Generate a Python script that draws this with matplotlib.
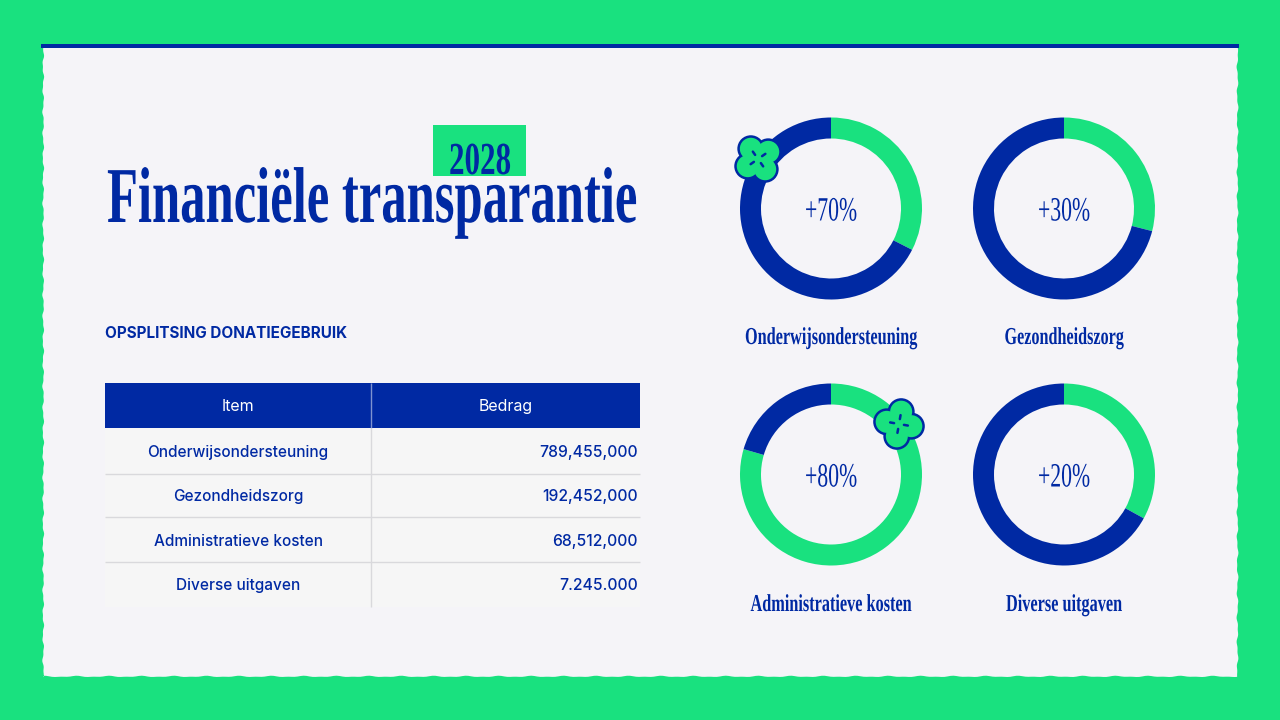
import numpy as np
import matplotlib
matplotlib.use("Agg")
import matplotlib.pyplot as plt
from matplotlib.patches import Rectangle, Circle, Polygon
from matplotlib.patheffects import AbstractPathEffect
from matplotlib.transforms import Affine2D

GREEN = "#19E17F"
BLUE = "#0029A3"
PANEL = "#F5F4F8"
ROW = "#F6F6F6"
GRID = "#D9D9DC"

title = "Financiële transparantie"
year = "2028"
subtitle = "OPSPLITSING DONATIEGEBRUIK"
table_header = ["Item", "Bedrag"]
table_items = ["Onderwijsondersteuning", "Gezondheidszorg", "Administratieve kosten", "Diverse uitgaven"]
table_amounts = ["789,455,000", "192,452,000", "68,512,000", "7.245.000"]
donut_labels = ["Onderwijsondersteuning", "Gezondheidszorg", "Administratieve kosten", "Diverse uitgaven"]
donut_texts = ["+70%", "+30%", "+80%", "+20%"]
donut_green = [32.5, 29, 79.5, 33]
donut_blue = [67.5, 71, 20.5, 67]

W, H = 1280, 720
fig = plt.figure(figsize=(12.8, 7.2), dpi=100, facecolor=GREEN)
ax = fig.add_axes([0, 0, 1, 1])
ax.set_xlim(0, W)
ax.set_ylim(H, 0)
ax.axis("off")


class Condense(AbstractPathEffect):
    """Narrow a text horizontally about a fixed pixel column."""
    def __init__(self, x0, sx):
        super().__init__()
        self.x0, self.sx = x0, sx

    def draw_path(self, renderer, gc, tpath, affine, rgbFace=None):
        squeeze = Affine2D().translate(-self.x0, 0).scale(self.sx, 1).translate(self.x0, 0)
        renderer.draw_path(gc, tpath, affine + squeeze, rgbFace)


def fit(txt, width):
    r = fig.canvas.get_renderer()
    w = txt.get_window_extent(r).width
    txt.set_fontsize(txt.get_fontsize() * width / w)


def condensed(x, y, s, width, size, ha="center", weight="normal"):
    txt = ax.text(x, y, s, family="Liberation Serif", weight=weight, color=BLUE,
                  fontsize=size, ha=ha, va="baseline", zorder=4)
    w = txt.get_window_extent(fig.canvas.get_renderer()).width
    txt.set_path_effects([Condense(x, width / w)])
    return txt


def wobble(n, a, f1, f2):
    t = np.linspace(0, 1, n)
    return a * (np.sin(t * f1) + 0.6 * np.sin(t * f2 + 1.0))


# panel with a slightly rough edge
n = 400
xs = np.linspace(43, 1238, n)
ys = np.linspace(48, 677, n)
top = np.c_[xs, np.full(n, 48.0)]
right = np.c_[1237.5 + wobble(n, 0.6, 151, 337), ys]
bottom = np.c_[xs[::-1], 676.5 + wobble(n, 0.5, 231, 463)]
left = np.c_[43.2 + wobble(n, 0.6, 173, 389), ys[::-1]]
ax.add_patch(Polygon(np.vstack([top, right, bottom, left]), closed=True, fc=PANEL, ec="none", zorder=1))
ax.add_patch(Rectangle((41, 44), 1198, 4, fc=BLUE, ec="none", zorder=2))

# year tag and title
ax.add_patch(Rectangle((433, 125), 93, 51, fc=GREEN, ec="none", zorder=2))
condensed(480, 174, year, 62, 33, weight="bold")
condensed(107, 222, title, 530, 57, ha="left", weight="bold")

t = ax.text(105, 333, subtitle, family="Inter", weight="bold", color=BLUE, fontsize=11, ha="left", va="center", zorder=3)
fit(t, 242)

# table
tx0, tx1, tdiv = 105, 640, 371
row_edges = [428, 474, 517, 562, 607]
row_base_y = [457, 501, 546, 590]
ax.add_patch(Rectangle((tx0, 428), tx1 - tx0, 179, fc=ROW, ec="none", zorder=1.5))
ax.add_patch(Rectangle((tx0, 383), tx1 - tx0, 45, fc=BLUE, ec="none", zorder=2))
ax.plot([tdiv, tdiv], [383, 428], color="#7F93D0", lw=1, zorder=3, solid_capstyle="butt")
ax.plot([tdiv, tdiv], [428, 607], color=GRID, lw=1, zorder=3, solid_capstyle="butt")
for y in row_edges[1:4]:
    ax.plot([tx0, tx1], [y, y], color=GRID, lw=1, zorder=3, solid_capstyle="butt")
ax.text((tx0 + tdiv) / 2, 411, table_header[0], family="Inter", color="white", fontsize=11.5, ha="center", va="baseline", zorder=4)
ax.text((tdiv + tx1) / 2, 411, table_header[1], family="Inter", color="white", fontsize=11.5, ha="center", va="baseline", zorder=4)
for item, amt, y in zip(table_items, table_amounts, row_base_y):
    ax.text((tx0 + tdiv) / 2, y, item, family="Inter", weight="medium", color=BLUE, fontsize=11.05, ha="center", va="baseline", zorder=4)
    ax.text(638, y, amt, family="Inter", weight="medium", color=BLUE, fontsize=11.3, ha="right", va="baseline", zorder=4)

# donuts
centres = [(831, 208.5), (1064, 208.5), (831, 474.5), (1064, 474.5)]
R, RI = 91, 70
label_y = [344, 344, 611, 611]
label_w = [172, 119, 161, 116]
for (cx, cy), g, b, txt, lab, ly, lw_ in zip(centres, donut_green, donut_blue, donut_texts, donut_labels, label_y, label_w):
    a = fig.add_axes([(cx - R) / W, 1 - (cy + R) / H, 2 * R / W, 2 * R / H], zorder=2)
    a.pie([g, b], colors=[GREEN, BLUE], startangle=90, counterclock=False, radius=1,
          wedgeprops=dict(width=1 - RI / R, linewidth=0))
    a.set_xlim(-1, 1)
    a.set_ylim(-1, 1)
    a.patch.set_alpha(0)
    condensed(cx, cy + 12, txt, 52, 24.5)
    condensed(cx, ly, lab, lw_, 17.5, weight="bold")

# overlay for decorations above the donut axes
ov = fig.add_axes([0, 0, 1, 1], zorder=5)
ov.set_xlim(0, W)
ov.set_ylim(H, 0)
ov.axis("off")
ov.patch.set_alpha(0)


def flower(cx, cy, rot):
    d, r = 12.5, 13.5
    ang = np.deg2rad(rot + np.array([0, 90, 180, 270]))
    for col, rr, z in ((BLUE, r, 6), (GREEN, r - 2.5, 7)):
        for th in ang:
            ov.add_patch(Circle((cx + d * np.cos(th), cy + d * np.sin(th)), rr, fc=col, ec="none", zorder=z))
    ov.add_patch(Circle((cx, cy), d * 0.8, fc=GREEN, ec="none", zorder=7))
    for th in ang:
        ov.plot([cx + 5 * np.cos(th), cx + 9 * np.cos(th)], [cy + 5 * np.sin(th), cy + 9 * np.sin(th)],
                color=BLUE, lw=1.8, solid_capstyle="round", zorder=8)


flower(758, 159, 55)
flower(899, 424, 10)

fig.savefig("out.png", dpi=100, facecolor=GREEN)
